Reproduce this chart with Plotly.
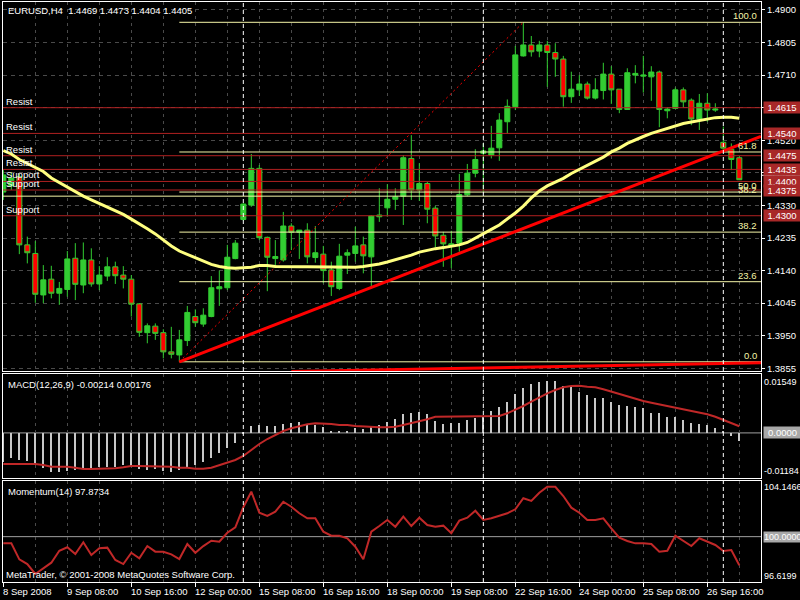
import plotly.graph_objects as go

# ---------------- data ----------------
bars = list(range(93))
opens = [1.4369,1.4387,1.4414,1.4215,1.4190,1.4069,1.4115,1.4074,1.4085,1.4176,
         1.4098,1.4171,1.4101,1.4124,1.4151,1.4127,1.4115,1.4043,1.3959,1.3978,
         1.3959,1.3903,1.3894,1.3936,1.4006,1.3984,1.4006,1.4087,1.4090,1.4175,
         1.4289,1.4331,1.4438,1.4237,1.4175,1.4171,1.4270,1.4252,1.4258,1.4178,
         1.4188,1.4142,1.4088,1.4185,1.4190,1.4215,1.4180,1.4297,1.4323,1.4348,
         1.4357,1.4467,1.4375,1.4394,1.4322,1.4243,1.4212,1.4220,1.4361,1.4424,
         1.4482,1.4477,1.4498,1.4574,1.4618,1.4766,1.4798,1.4780,1.4798,1.4776,
         1.4757,1.4647,1.4667,1.4684,1.4643,1.4665,1.4713,1.4669,1.4610,1.4710,
         1.4707,1.4705,1.4719,1.4606,1.4613,1.4667,1.4637,1.4582,1.4628,1.4608,
         1.4514,1.4494,1.4469]
highs = [1.4433,1.4427,1.4422,1.4239,1.4226,1.4156,1.4154,1.4107,1.4197,1.4220,
         1.4222,1.4205,1.4153,1.4179,1.4166,1.4153,1.4127,1.4045,1.3986,1.3986,
         1.3969,1.3976,1.3967,1.4037,1.4027,1.4030,1.4124,1.4140,1.4215,1.4229,
         1.4336,1.4480,1.4448,1.4239,1.4229,1.4311,1.4278,1.4258,1.4278,1.4270,
         1.4212,1.4166,1.4218,1.4202,1.4268,1.4239,1.4302,1.4380,1.4392,1.4380,
         1.4477,1.4535,1.4453,1.4399,1.4329,1.4253,1.4256,1.4422,1.4451,1.4494,
         1.4511,1.4562,1.4599,1.4639,1.4795,1.4864,1.4824,1.4810,1.4810,1.4803,
         1.4766,1.4720,1.4710,1.4691,1.4701,1.4746,1.4736,1.4669,1.4730,1.4739,
         1.4766,1.4736,1.4723,1.4616,1.4674,1.4674,1.4642,1.4655,1.4657,1.4628,
         1.4560,1.4511,1.4473]
lows = [1.4346,1.4375,1.4188,1.4161,1.4046,1.4045,1.4059,1.4040,1.4064,1.4054,
        1.4074,1.4093,1.4083,1.4110,1.4101,1.4088,1.4006,1.3947,1.3928,1.3938,
        1.3884,1.3884,1.3874,1.3920,1.3976,1.3976,1.4004,1.4037,1.4083,1.4173,
        1.4285,1.4326,1.4229,1.4080,1.4150,1.4166,1.4200,1.4174,1.4161,1.4163,
        1.4103,1.4066,1.4083,1.4130,1.4166,1.4132,1.4089,1.4282,1.4297,1.4317,
        1.4273,1.4346,1.4343,1.4278,1.4207,1.4151,1.4147,1.4195,1.4357,1.4412,
        1.4370,1.4467,1.4460,1.4540,1.4608,1.4764,1.4764,1.4762,1.4676,1.4705,
        1.4618,1.4629,1.4649,1.4639,1.4639,1.4639,1.4626,1.4599,1.4610,1.4686,
        1.4659,1.4635,1.4558,1.4584,1.4611,1.4616,1.4564,1.4550,1.4574,1.4603,
        1.4492,1.4433,1.4404]
closes = [1.4419,1.4410,1.4215,1.4192,1.4071,1.4113,1.4074,1.4088,1.4174,1.4100,
          1.4171,1.4101,1.4127,1.4151,1.4125,1.4115,1.4042,1.3960,1.3979,1.3957,
          1.3903,1.3896,1.3938,1.4018,1.3988,1.4010,1.4090,1.4093,1.4179,1.4220,
          1.4334,1.4438,1.4236,1.4179,1.4181,1.4270,1.4252,1.4258,1.4180,1.4192,
          1.4140,1.4093,1.4182,1.4192,1.4212,1.4183,1.4299,1.4302,1.4348,1.4355,
          1.4469,1.4375,1.4394,1.4319,1.4241,1.4218,1.4218,1.4362,1.4424,1.4464,
          1.4489,1.4497,1.4579,1.4619,1.4769,1.4798,1.4778,1.4798,1.4776,1.4757,
          1.4647,1.4669,1.4684,1.4643,1.4667,1.4713,1.4667,1.4610,1.4717,1.4715,
          1.4710,1.4719,1.4610,1.4611,1.4667,1.4632,1.4582,1.4628,1.4608,1.4611,
          1.4497,1.4464,1.4405]
ma = [1.4490,1.4480,1.4464,1.4452,1.4441,1.4429,1.4410,1.4397,1.4383,1.4369,
      1.4357,1.4346,1.4336,1.4325,1.4314,1.4304,1.4290,1.4277,1.4262,1.4247,
      1.4229,1.4212,1.4197,1.4187,1.4177,1.4168,1.4158,1.4152,1.4148,1.4147,
      1.4148,1.4150,1.4155,1.4155,1.4152,1.4151,1.4151,1.4151,1.4151,1.4151,
      1.4150,1.4149,1.4149,1.4149,1.4150,1.4152,1.4155,1.4159,1.4165,1.4171,
      1.4177,1.4185,1.4194,1.4200,1.4204,1.4207,1.4210,1.4215,1.4222,1.4234,
      1.4247,1.4260,1.4273,1.4290,1.4308,1.4328,1.4352,1.4372,1.4387,1.4398,
      1.4409,1.4423,1.4435,1.4448,1.4460,1.4471,1.4486,1.4497,1.4511,1.4522,
      1.4531,1.4540,1.4547,1.4555,1.4562,1.4569,1.4573,1.4578,1.4583,1.4586,
      1.4587,1.4587,1.4584]
macd_main = [-0.00757,-0.00668,-0.00712,-0.00731,-0.00844,-0.00930,-0.01020,-0.01035,-0.00993,-0.00975,
             -0.00949,-0.00957,-0.00904,-0.00888,-0.00888,-0.00844,-0.00888,-0.00957,-0.00975,-0.00957,
             -0.00993,-0.01020,-0.00975,-0.00888,-0.00844,-0.00757,-0.00668,-0.00536,-0.00405,-0.00258,
             -0.00029,0.00181,0.00208,0.00181,0.00181,0.00234,0.00268,0.00279,0.00208,0.00208,
             0.00147,0.00058,0.00050,0.00050,0.00121,0.00095,0.00181,0.00208,0.00279,0.00357,
             0.00497,0.00531,0.00557,0.00497,0.00321,0.00234,0.00252,0.00268,0.00339,0.00399,
             0.00426,0.00583,0.00689,0.00820,0.01022,0.01172,0.01277,0.01346,0.01364,0.01364,
             0.01240,0.01198,0.01083,0.00996,0.00909,0.00909,0.00820,0.00733,0.00707,0.00673,
             0.00647,0.00531,0.00515,0.00426,0.00426,0.00339,0.00252,0.00234,0.00208,0.00137,
             0.00058,-0.00074,-0.00214]
macd_signal = [-0.00817,-0.00817,-0.00817,-0.00817,-0.00817,-0.00844,-0.00888,-0.00888,-0.00888,-0.00915,
               -0.00949,-0.00949,-0.00949,-0.00949,-0.00930,-0.00904,-0.00870,-0.00870,-0.00870,-0.00870,
               -0.00870,-0.00888,-0.00915,-0.00915,-0.00941,-0.00941,-0.00915,-0.00844,-0.00783,-0.00712,
               -0.00607,-0.00449,-0.00292,-0.00160,-0.00055,0.00050,0.00121,0.00181,0.00226,0.00252,
               0.00252,0.00234,0.00208,0.00208,0.00181,0.00163,0.00147,0.00147,0.00147,0.00163,
               0.00208,0.00252,0.00294,0.00357,0.00426,0.00426,0.00426,0.00426,0.00426,0.00426,
               0.00426,0.00426,0.00444,0.00515,0.00602,0.00707,0.00820,0.00936,0.01041,0.01127,
               0.01198,0.01233,0.01240,0.01214,0.01198,0.01146,0.01083,0.01014,0.00951,0.00891,
               0.00838,0.00794,0.00752,0.00707,0.00662,0.00620,0.00576,0.00531,0.00489,0.00426,
               0.00339,0.00252,0.00176]
momentum = [99.50,99.50,98.31,97.96,97.22,97.64,98.06,98.95,99.21,98.71,
            99.58,98.63,99.13,99.18,98.26,97.96,98.80,98.39,99.30,98.88,
            98.88,98.68,98.33,99.45,98.80,99.30,99.70,99.62,100.29,100.70,
            102.19,103.35,101.78,101.54,101.86,102.60,102.23,101.74,101.37,101.37,
            100.37,100.07,100.07,99.88,99.25,98.31,100.37,100.79,101.24,100.74,
            101.49,100.79,101.41,100.87,100.74,100.82,100.25,101.19,101.41,101.93,
            101.24,101.37,101.54,101.74,102.04,102.86,102.66,103.27,103.72,103.72,
            103.03,102.16,101.78,101.24,101.24,101.37,100.62,99.92,99.68,99.50,
            99.50,99.45,98.88,98.95,100.07,99.70,99.30,99.88,99.62,99.38,
            98.93,99.00,97.87]

x_tick_bars = [0, 8, 16, 24, 32, 40, 48, 56, 64, 72, 80, 88]
x_tick_labels = ["8 Sep 2008", "9 Sep 08:00", "10 Sep 16:00", "12 Sep 00:00",
                 "15 Sep 08:00", "16 Sep 16:00", "18 Sep 00:00", "19 Sep 08:00",
                 "22 Sep 16:00", "24 Sep 00:00", "25 Sep 08:00", "26 Sep 16:00"]
grid_bars = [4, 12, 20, 28, 36, 44, 52, 60, 68, 76, 84, 92]
price_ticks = [1.3855, 1.3950, 1.4045, 1.4140, 1.4235, 1.4330,
               1.4425, 1.4520, 1.4615, 1.4710, 1.4805, 1.4900]
sr_levels = [1.4615, 1.4540, 1.4475, 1.4435, 1.4400, 1.4375, 1.4300]
sr_names = ["Resist", "Resist", "Resist", "Resist", "Support", "Support", "Support"]
fib_low, fib_high = 1.3874, 1.4864
fib_start_bar, fib_end_bar = 22, 65
fib_levels = [0.0, 23.6, 38.2, 50.0, 61.8, 100.0]
extra_level, extra_label = 1.4357, "38.2"
trend_main = ([22, 94.7], [1.3874, 1.4531])
trend_low = ([36, 94.7], [1.3846, 1.3871])
separators = [30, 60, 90]
bid_marker = 1.4418
macd_labels = [(0.01549, "0.01549"), (-0.01184, "-0.01184")]
mom_labels = [(104.1466, "104.1466"), (96.6199, "96.6199")]

# ---------------- style ----------------
FONT = "Liberation Sans"
FS = 9.5
GRID = "#4a4a4a"
SR_RED = "#b02020"
FIB_Y = "#f5f5a8"
XR = [-0.04, 94.71]

fig = go.Figure()

fig.add_trace(go.Candlestick(
    x=bars, open=opens, high=highs, low=lows, close=closes,
    increasing=dict(line=dict(color="#32cd32", width=1), fillcolor="#32cd32"),
    decreasing=dict(line=dict(color="#32cd32", width=1), fillcolor="#ff0000"),
    whiskerwidth=0, xaxis="x", yaxis="y", showlegend=False, hoverinfo="skip"))

for lv in sr_levels:
    fig.add_trace(go.Scatter(x=XR, y=[lv, lv], mode="lines",
                             line=dict(color=SR_RED, width=1),
                             xaxis="x", yaxis="y", showlegend=False, hoverinfo="skip"))
fig.add_trace(go.Scatter(x=XR, y=[extra_level, extra_level], mode="lines",
                         line=dict(color=FIB_Y, width=1), xaxis="x", yaxis="y",
                         showlegend=False, hoverinfo="skip"))
for lvl in fib_levels:
    p = fib_low + (fib_high - fib_low) * lvl / 100.0
    fig.add_trace(go.Scatter(x=[fib_start_bar, XR[1]], y=[p, p], mode="lines",
                             line=dict(color=FIB_Y, width=1), xaxis="x", yaxis="y",
                             showlegend=False, hoverinfo="skip"))
fig.add_trace(go.Scatter(x=[fib_start_bar, fib_end_bar], y=[fib_low, fib_high], mode="lines",
                         line=dict(color="#ff0000", width=1, dash="2px,3px"),
                         xaxis="x", yaxis="y", showlegend=False, hoverinfo="skip"))
for tx, ty in (trend_main, trend_low):
    fig.add_trace(go.Scatter(x=tx, y=ty, mode="lines", line=dict(color="#ff0000", width=3),
                             xaxis="x", yaxis="y", showlegend=False, hoverinfo="skip"))
fig.add_trace(go.Scatter(x=bars, y=ma, mode="lines", line=dict(color="#ffff80", width=3),
                         xaxis="x", yaxis="y", showlegend=False, hoverinfo="skip"))

fig.add_trace(go.Bar(x=bars, y=macd_main, width=0.16, marker=dict(color="#c8c8c8", line=dict(width=0)),
                     xaxis="x2", yaxis="y2", showlegend=False, hoverinfo="skip"))
fig.add_trace(go.Scatter(x=bars, y=macd_signal, mode="lines", line=dict(color="#c02828", width=2),
                         xaxis="x2", yaxis="y2", showlegend=False, hoverinfo="skip"))
fig.add_trace(go.Scatter(x=bars, y=momentum, mode="lines", line=dict(color="#c02828", width=2),
                         xaxis="x3", yaxis="y3", showlegend=False, hoverinfo="skip"))

shapes = []
for s in separators:
    for yr in ("y domain", "y2 domain", "y3 domain"):
        shapes.append(dict(type="line", xref="x", yref=yr, x0=s, x1=s, y0=0, y1=1,
                           line=dict(color="white", width=1, dash="4px,3px"), layer="above"))
shapes.append(dict(type="line", xref="x domain", yref="y2", x0=0, x1=1, y0=0, y1=0,
                   line=dict(color="#a0a0a0", width=1), layer="below"))
shapes.append(dict(type="line", xref="x domain", yref="y3", x0=0, x1=1, y0=100, y1=100,
                   line=dict(color="#a0a0a0", width=1), layer="below"))
shapes.append(dict(type="line", xref="paper", yref="y", x0=1, x1=1.052, y0=bid_marker, y1=bid_marker,
                   line=dict(color="white", width=1)))

ann = []
def txt(text, x, y, xref="paper", yref="paper", xanchor="left", yanchor="middle",
        color="white", size=FS, bg=None, width=None, xshift=0, yshift=0, align="left"):
    d = dict(text=text, x=x, y=y, xref=xref, yref=yref, xanchor=xanchor, yanchor=yanchor,
             showarrow=False, font=dict(color=color, size=size, family=FONT),
             xshift=xshift, yshift=yshift, borderpad=0, align=align)
    if bg:
        d["bgcolor"] = bg
    if width:
        d["width"] = width
    ann.append(d)

H_PLOT = 580.0
def py(Y):
    return (582.0 - Y) / H_PLOT

txt("EURUSD,H4  1.4469 1.4473 1.4404 1.4405", 0, py(11), xshift=4)
txt("MACD(12,26,9) -0.00214 0.00176", 0, py(384), xshift=4)
txt("Momentum(14) 97.8734", 0, py(491), xshift=4)
txt("MetaTrader, © 2001-2008 MetaQuotes Software Corp.", 0, py(574), xshift=2)

for lv, nm in zip(sr_levels, sr_names):
    txt(nm, 0, lv, yref="y", yanchor="bottom", xshift=2)
    txt(f"{lv:.4f}", 1, lv, yref="y", xshift=2, bg="#a82828", width=36, align="center")

for lvl in fib_levels:
    p = fib_low + (fib_high - fib_low) * lvl / 100.0
    txt(f"{lvl:.1f}", 1, p, yref="y", xanchor="right", yanchor="bottom", color=FIB_Y, xshift=-3)
txt(extra_label, 1, extra_level, yref="y", xanchor="right", yanchor="bottom", color=FIB_Y, xshift=-3)

for v, s in macd_labels:
    Y = 382 if v > 0 else 471
    txt(s, 1, py(Y), xshift=2, size=9)
txt("0.0000", 1, 0, yref="y2", xshift=2, bg="#a8a8a8", width=37, align="center")
for v, s in mom_labels:
    Y = 487 if v > 100 else 576
    txt(s, 1, py(Y), xshift=2, size=9)
txt("100.0000", 1, 100, yref="y3", xshift=2, bg="#a8a8a8", width=37, align="left", size=9)

for b, lab in zip(x_tick_bars, x_tick_labels):
    txt(lab, b, py(591), xref="x3", xshift=-1)

xcommon = dict(range=XR, showline=True, mirror=True, linecolor="white", linewidth=1,
               tickvals=x_tick_bars, showticklabels=False, showgrid=True, gridcolor=GRID,
               griddash="3px,4px", gridwidth=1, zeroline=False,
               minor=dict(tickvals=grid_bars, showgrid=True, gridcolor=GRID, griddash="3px,4px",
                          gridwidth=1, ticks=""))

fig.update_layout(
    width=800, height=600, paper_bgcolor="black", plot_bgcolor="black",
    margin=dict(l=3, r=39, t=2, b=18), showlegend=False,
    font=dict(family=FONT, size=FS, color="white"),
    boxgap=0.1, bargap=0,
    xaxis=dict(**xcommon, anchor="y", ticks="", rangeslider=dict(visible=False)),
    xaxis2=dict(**xcommon, anchor="y2", ticks=""),
    xaxis3=dict(**xcommon, anchor="y3", ticks="outside", ticklen=4, tickcolor="white"),
    yaxis=dict(domain=[0.36379, 1.0], range=[1.38472, 1.49232], side="right",
               tickvals=price_ticks, ticktext=[f"{p:.4f}" for p in price_ticks],
               ticks="outside", ticklen=3, tickcolor="white",
               tickfont=dict(color="white", size=FS, family=FONT),
               showgrid=True, gridcolor=GRID, griddash="4px,4px", zeroline=False,
               showline=True, mirror=True, linecolor="white", linewidth=1, anchor="x"),
    yaxis2=dict(domain=[0.17931, 0.35862], range=[-0.01185, 0.01548], side="right",
                showticklabels=False, ticks="", showgrid=False, zeroline=False,
                showline=True, mirror=True, linecolor="white", linewidth=1, anchor="x2"),
    yaxis3=dict(domain=[0.0, 0.17414], range=[96.621, 104.1466], side="right",
                showticklabels=False, ticks="", showgrid=False, zeroline=False,
                showline=True, mirror=True, linecolor="white", linewidth=1, anchor="x3"),
    shapes=shapes, annotations=ann,
)

fig.write_html("out.html", config={"displayModeBar": False},
               post_script="document.body.style.margin='0';document.body.style.padding='0';"
                           "document.body.style.background='black';")
